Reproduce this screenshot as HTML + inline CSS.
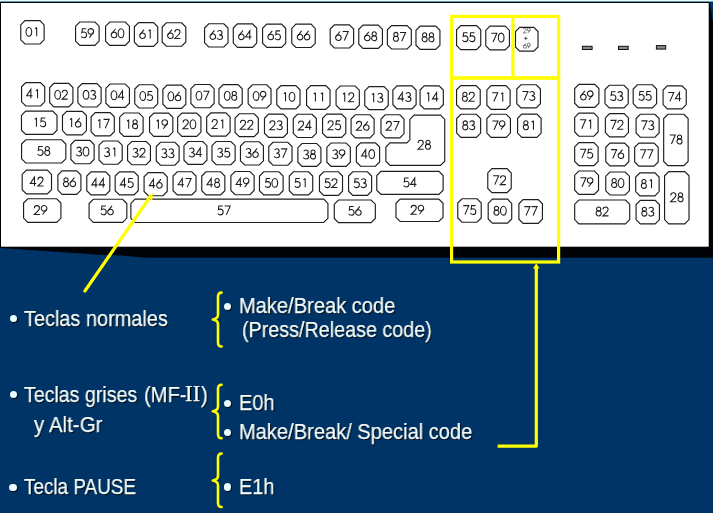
<!DOCTYPE html>
<html><head><meta charset="utf-8">
<style>
html,body{margin:0;padding:0;}
body{-webkit-font-smoothing:antialiased;width:713px;height:513px;overflow:hidden;background:#003366;position:relative;font-family:"Liberation Sans",sans-serif;}
svg{position:absolute;left:0;top:0;}
.k polygon{fill:#fff;stroke:#1e1e1e;stroke-width:1.15;}
.lb{fill:none;stroke:#1c1c1c;stroke-width:1.05;}
.t{position:absolute;color:#f2ffff;white-space:pre;font-size:22px;line-height:22px;text-shadow:1px 1px 1px #000;-webkit-text-stroke:0.25px #f2ffff;transform-origin:0 0;will-change:transform;}
.b{position:absolute;width:7.2px;height:7.2px;border-radius:50%;background:#eaffff;box-shadow:0.8px 0.8px 0.8px #000;}
</style></head><body>
<svg width="713" height="513" viewBox="0 0 713 513" style="will-change:transform">
<!-- shadow -->
<polygon points="0,240 708,240 708,3 710,3 713,23 713,257.8 146,257.8 121,255.4 100,254.7 30,250 0,248" fill="#020307"/>
<rect x="0" y="0" width="713" height="1" fill="#e4ffff"/>
<rect x="0" y="1" width="713" height="1" fill="#6a9ab5"/>
<rect x="0" y="2" width="709" height="1" fill="#000"/>
<rect x="0" y="2" width="1" height="245" fill="#000"/>
<rect x="1" y="3" width="707.7" height="243.7" fill="#fff"/>
<g class="k">
<polygon points="24.97,20.68 39.92,20.68 44.12,24.88 44.12,39.82 39.92,44.02 24.97,44.02 20.77,39.82 20.77,24.88"/>
<polygon points="79.78,21.97 94.92,21.97 99.12,26.17 99.12,41.12 94.92,45.32 79.78,45.32 75.58,41.12 75.58,26.17"/>
<polygon points="109.78,21.97 125.23,21.97 129.43,26.17 129.43,41.22 125.23,45.42 109.78,45.42 105.58,41.22 105.58,26.17"/>
<polygon points="138.57,22.57 153.53,22.57 157.73,26.77 157.73,42.22 153.53,46.42 138.57,46.42 134.38,42.22 134.38,26.77"/>
<polygon points="166.37,22.77 181.63,22.77 185.83,26.97 185.83,42.02 181.63,46.22 166.37,46.22 162.17,42.02 162.17,26.97"/>
<polygon points="208.77,23.77 223.83,23.77 228.03,27.97 228.03,42.82 223.83,47.02 208.77,47.02 204.57,42.82 204.57,27.97"/>
<polygon points="237.47,23.88 252.53,23.88 256.73,28.07 256.73,43.12 252.53,47.32 237.47,47.32 233.27,43.12 233.27,28.07"/>
<polygon points="266.77,24.07 281.53,24.07 285.73,28.27 285.73,43.22 281.53,47.42 266.77,47.42 262.57,43.22 262.57,28.27"/>
<polygon points="295.97,24.18 311.03,24.18 315.23,28.38 315.23,43.32 311.03,47.52 295.97,47.52 291.77,43.32 291.77,28.38"/>
<polygon points="334.38,24.88 349.43,24.88 353.62,29.07 353.62,43.82 349.43,48.02 334.38,48.02 330.18,43.82 330.18,29.07"/>
<polygon points="362.97,25.07 378.23,25.07 382.43,29.27 382.43,44.22 378.23,48.42 362.97,48.42 358.77,44.22 358.77,29.27"/>
<polygon points="391.57,25.57 407.12,25.57 411.32,29.77 411.32,44.82 407.12,49.02 391.57,49.02 387.38,44.82 387.38,29.77"/>
<polygon points="420.17,26.07 435.73,26.07 439.93,30.27 439.93,45.22 435.73,49.42 420.17,49.42 415.97,45.22 415.97,30.27"/>
<polygon points="460.77,25.57 476.53,25.57 480.73,29.77 480.73,45.42 476.53,49.62 460.77,49.62 456.57,45.42 456.57,29.77"/>
<polygon points="489.97,26.18 505.23,26.18 509.43,30.38 509.43,45.72 505.23,49.92 489.97,49.92 485.77,45.72 485.77,30.38"/>
<polygon points="25.77,82.58 40.52,82.58 44.72,86.78 44.72,101.82 40.52,106.02 25.77,106.02 21.57,101.82 21.57,86.78"/>
<polygon points="53.88,83.38 68.72,83.38 72.92,87.58 72.92,102.72 68.72,106.92 53.88,106.92 49.68,102.72 49.68,87.58"/>
<polygon points="82.08,83.58 96.92,83.58 101.12,87.78 101.12,102.82 96.92,107.02 82.08,107.02 77.88,102.82 77.88,87.78"/>
<polygon points="110.08,83.98 125.23,83.98 129.43,88.18 129.43,103.22 125.23,107.42 110.08,107.42 105.88,103.22 105.88,88.18"/>
<polygon points="138.97,84.78 153.53,84.78 157.73,88.98 157.73,103.82 153.53,108.02 138.97,108.02 134.77,103.82 134.77,88.98"/>
<polygon points="167.07,85.08 181.63,85.08 185.83,89.28 185.83,104.22 181.63,108.42 167.07,108.42 162.88,104.22 162.88,89.28"/>
<polygon points="195.07,84.48 209.93,84.48 214.12,88.68 214.12,103.52 209.93,107.72 195.07,107.72 190.88,103.52 190.88,88.68"/>
<polygon points="223.17,84.58 238.03,84.58 242.23,88.78 242.23,103.72 238.03,107.92 223.17,107.92 218.97,103.72 218.97,88.78"/>
<polygon points="252.37,84.78 266.83,84.78 271.03,88.98 271.03,103.82 266.83,108.02 252.37,108.02 248.17,103.82 248.17,88.98"/>
<polygon points="280.97,85.58 295.83,85.58 300.03,89.78 300.03,104.72 295.83,108.92 280.97,108.92 276.77,104.72 276.77,89.78"/>
<polygon points="310.77,85.58 325.83,85.58 330.03,89.78 330.03,105.22 325.83,109.42 310.77,109.42 306.57,105.22 306.57,89.78"/>
<polygon points="340.27,85.98 355.12,85.98 359.32,90.18 359.32,105.22 355.12,109.42 340.27,109.42 336.07,105.22 336.07,90.18"/>
<polygon points="368.97,86.67 384.03,86.67 388.23,90.88 388.23,105.42 384.03,109.62 368.97,109.62 364.77,105.42 364.77,90.88"/>
<polygon points="397.07,85.88 411.93,85.88 416.12,90.08 416.12,104.72 411.93,108.92 397.07,108.92 392.88,104.72 392.88,90.08"/>
<polygon points="424.27,85.88 439.12,85.88 443.32,90.08 443.32,104.72 439.12,108.92 424.27,108.92 420.07,104.72 420.07,90.08"/>
<polygon points="460.77,85.58 476.03,85.58 480.23,89.78 480.23,104.72 476.03,108.92 460.77,108.92 456.57,104.72 456.57,89.78"/>
<polygon points="491.07,85.67 505.93,85.67 510.12,89.88 510.12,105.22 505.93,109.42 491.07,109.42 486.88,105.22 486.88,89.88"/>
<polygon points="520.98,84.78 536.22,84.78 540.42,88.98 540.42,103.72 536.22,107.92 520.98,107.92 516.78,103.72 516.78,88.98"/>
<polygon points="578.88,84.38 594.72,84.38 598.92,88.58 598.92,103.22 594.72,107.42 578.88,107.42 574.68,103.22 574.68,88.58"/>
<polygon points="609.18,85.28 624.02,85.28 628.22,89.48 628.22,103.62 624.02,107.83 609.18,107.83 604.98,103.62 604.98,89.48"/>
<polygon points="637.38,84.78 652.42,84.78 656.62,88.98 656.62,103.62 652.42,107.83 637.38,107.83 633.18,103.62 633.18,88.98"/>
<polygon points="667.28,85.88 682.02,85.88 686.22,90.08 686.22,104.62 682.02,108.83 667.28,108.83 663.08,104.62 663.08,90.08"/>
<polygon points="25.67,111.17 52.82,111.17 57.02,115.38 57.02,130.23 52.82,134.43 25.67,134.43 21.47,130.23 21.47,115.38"/>
<polygon points="66.67,111.38 82.22,111.38 86.42,115.58 86.42,130.63 82.22,134.83 66.67,134.83 62.48,130.63 62.48,115.58"/>
<polygon points="95.28,112.58 110.12,112.58 114.33,116.78 114.33,131.73 110.12,135.93 95.28,135.93 91.08,131.73 91.08,116.78"/>
<polygon points="123.88,112.98 138.93,112.98 143.12,117.18 143.12,132.23 138.93,136.43 123.88,136.43 119.67,132.23 119.67,117.18"/>
<polygon points="153.77,113.08 168.63,113.08 172.83,117.28 172.83,132.13 168.63,136.33 153.77,136.33 149.57,132.13 149.57,117.28"/>
<polygon points="181.87,113.08 196.73,113.08 200.93,117.28 200.93,132.13 196.73,136.33 181.87,136.33 177.67,132.13 177.67,117.28"/>
<polygon points="210.87,112.88 225.93,112.88 230.12,117.08 230.12,131.93 225.93,136.12 210.87,136.12 206.67,131.93 206.67,117.08"/>
<polygon points="239.27,113.78 254.12,113.78 258.32,117.98 258.32,132.43 254.12,136.62 239.27,136.62 235.07,132.43 235.07,117.98"/>
<polygon points="268.67,114.08 283.23,114.08 287.43,118.28 287.43,133.23 283.23,137.43 268.67,137.43 264.47,133.23 264.47,118.28"/>
<polygon points="297.47,114.28 312.12,114.28 316.32,118.48 316.32,133.33 312.12,137.53 297.47,137.53 293.27,133.33 293.27,118.48"/>
<polygon points="326.77,114.08 341.62,114.08 345.82,118.28 345.82,133.23 341.62,137.43 326.77,137.43 322.57,133.23 322.57,118.28"/>
<polygon points="355.27,114.78 369.93,114.78 374.12,118.98 374.12,133.63 369.93,137.83 355.27,137.83 351.07,133.63 351.07,118.98"/>
<polygon points="385.17,114.78 399.83,114.78 404.03,118.98 404.03,133.63 399.83,137.83 385.17,137.83 380.97,133.63 380.97,118.98"/>
<polygon points="460.88,114.28 476.43,114.28 480.62,118.48 480.62,133.13 476.43,137.33 460.88,137.33 456.68,133.13 456.68,118.48"/>
<polygon points="491.07,114.28 506.23,114.28 510.43,118.48 510.43,133.13 506.23,137.33 491.07,137.33 486.88,133.13 486.88,118.48"/>
<polygon points="521.78,114.08 536.92,114.08 541.12,118.28 541.12,133.13 536.92,137.33 521.78,137.33 517.58,133.13 517.58,118.28"/>
<polygon points="578.88,113.17 593.92,113.17 598.12,117.38 598.12,132.03 593.92,136.23 578.88,136.23 574.68,132.03 574.68,117.38"/>
<polygon points="609.58,113.67 624.22,113.67 628.42,117.88 628.42,132.63 624.22,136.83 609.58,136.83 605.38,132.63 605.38,117.88"/>
<polygon points="640.28,114.28 654.92,114.28 659.12,118.48 659.12,133.03 654.92,137.23 640.28,137.23 636.08,133.03 636.08,118.48"/>
<polygon points="667.88,114.28 683.92,114.28 688.12,118.48 688.12,161.43 683.92,165.62 667.88,165.62 663.68,161.43 663.68,118.48"/>
<polygon points="25.77,139.77 61.62,139.77 65.83,143.97 65.83,158.83 61.62,163.03 25.77,163.03 21.57,158.83 21.57,143.97"/>
<polygon points="75.08,140.38 89.92,140.38 94.12,144.57 94.12,159.53 89.92,163.73 75.08,163.73 70.88,159.53 70.88,144.57"/>
<polygon points="103.18,140.97 118.02,140.97 122.22,145.17 122.22,160.03 118.02,164.23 103.18,164.23 98.98,160.03 98.98,145.17"/>
<polygon points="131.78,141.47 146.23,141.47 150.43,145.67 150.43,160.53 146.23,164.73 131.78,164.73 127.58,160.53 127.58,145.67"/>
<polygon points="160.47,142.27 174.93,142.27 179.12,146.47 179.12,161.03 174.93,165.23 160.47,165.23 156.27,161.03 156.27,146.47"/>
<polygon points="188.17,141.47 202.73,141.47 206.93,145.67 206.93,160.23 202.73,164.43 188.17,164.43 183.97,160.23 183.97,145.67"/>
<polygon points="216.17,141.47 230.93,141.47 235.12,145.67 235.12,160.53 230.93,164.73 216.17,164.73 211.97,160.53 211.97,145.67"/>
<polygon points="244.67,141.77 259.23,141.77 263.43,145.97 263.43,160.83 259.23,165.03 244.67,165.03 240.47,160.83 240.47,145.97"/>
<polygon points="272.97,142.27 287.83,142.27 292.03,146.47 292.03,161.03 287.83,165.23 272.97,165.23 268.77,161.03 268.77,146.47"/>
<polygon points="302.07,143.47 316.73,143.47 320.93,147.67 320.93,162.23 316.73,166.43 302.07,166.43 297.88,162.23 297.88,147.67"/>
<polygon points="331.07,142.97 346.12,142.97 350.32,147.17 350.32,162.23 346.12,166.43 331.07,166.43 326.88,162.23 326.88,147.17"/>
<polygon points="360.57,142.88 375.43,142.88 379.62,147.07 379.62,162.03 375.43,166.23 360.57,166.23 356.38,162.03 356.38,147.07"/>
<polygon points="578.88,142.67 593.92,142.67 598.12,146.87 598.12,161.43 593.92,165.62 578.88,165.62 574.68,161.43 574.68,146.87"/>
<polygon points="609.98,143.07 624.62,143.07 628.82,147.27 628.82,161.73 624.62,165.93 609.98,165.93 605.78,161.73 605.78,147.27"/>
<polygon points="638.88,143.07 654.02,143.07 658.22,147.27 658.22,161.93 654.02,166.12 638.88,166.12 634.68,161.93 634.68,147.27"/>
<polygon points="26.38,170.17 47.32,170.17 51.52,174.37 51.52,189.73 47.32,193.93 26.38,193.93 22.18,189.73 22.18,174.37"/>
<polygon points="62.08,170.88 76.72,170.88 80.92,175.07 80.92,190.13 76.72,194.33 62.08,194.33 57.88,190.13 57.88,175.07"/>
<polygon points="90.98,171.88 105.62,171.88 109.83,176.07 109.83,190.73 105.62,194.93 90.98,194.93 86.78,190.73 86.78,176.07"/>
<polygon points="119.38,171.88 134.03,171.88 138.23,176.07 138.23,190.73 134.03,194.93 119.38,194.93 115.17,190.73 115.17,176.07"/>
<polygon points="148.27,172.57 163.03,172.57 167.23,176.77 167.23,191.53 163.03,195.73 148.27,195.73 144.07,191.53 144.07,176.77"/>
<polygon points="177.27,171.77 191.83,171.77 196.03,175.97 196.03,190.73 191.83,194.93 177.27,194.93 173.07,190.73 173.07,175.97"/>
<polygon points="205.97,171.77 220.63,171.77 224.83,175.97 224.83,190.73 220.63,194.93 205.97,194.93 201.77,190.73 201.77,175.97"/>
<polygon points="235.07,171.47 249.93,171.47 254.12,175.67 254.12,190.53 249.93,194.73 235.07,194.73 230.88,190.53 230.88,175.67"/>
<polygon points="263.67,171.77 278.93,171.77 283.12,175.97 283.12,190.73 278.93,194.93 263.67,194.93 259.47,190.73 259.47,175.97"/>
<polygon points="293.47,171.77 308.53,171.77 312.73,175.97 312.73,190.73 308.53,194.93 293.47,194.93 289.27,190.73 289.27,175.97"/>
<polygon points="323.67,171.77 338.33,171.77 342.53,175.97 342.53,191.23 338.33,195.43 323.67,195.43 319.47,191.23 319.47,175.97"/>
<polygon points="352.77,171.77 367.43,171.77 371.62,175.97 371.62,191.23 367.43,195.43 352.77,195.43 348.57,191.23 348.57,175.97"/>
<polygon points="380.97,171.38 438.93,171.38 443.12,175.57 443.12,190.23 438.93,194.43 380.97,194.43 376.77,190.23 376.77,175.57"/>
<polygon points="491.97,168.67 507.03,168.67 511.23,172.87 511.23,188.43 507.03,192.62 491.97,192.62 487.77,188.43 487.77,172.87"/>
<polygon points="578.88,170.97 594.32,170.97 598.52,175.17 598.52,190.23 594.32,194.43 578.88,194.43 574.68,190.23 574.68,175.17"/>
<polygon points="609.98,171.97 625.22,171.97 629.42,176.17 629.42,190.83 625.22,195.03 609.98,195.03 605.78,190.83 605.78,176.17"/>
<polygon points="639.88,172.88 654.92,172.88 659.12,177.07 659.12,191.63 654.92,195.83 639.88,195.83 635.68,191.63 635.68,177.07"/>
<polygon points="668.78,171.57 684.82,171.57 689.02,175.77 689.02,219.63 684.82,223.83 668.78,223.83 664.58,219.63 664.58,175.77"/>
<polygon points="27.77,198.77 56.72,198.77 60.92,202.97 60.92,218.13 56.72,222.33 27.77,222.33 23.57,218.13 23.57,202.97"/>
<polygon points="93.28,199.27 122.62,199.27 126.83,203.47 126.83,218.13 122.62,222.33 93.28,222.33 89.08,218.13 89.08,203.47"/>
<polygon points="135.07,199.17 323.73,199.17 327.93,203.37 327.93,218.33 323.73,222.53 135.07,222.53 130.88,218.33 130.88,203.37"/>
<polygon points="338.47,199.97 371.12,199.97 375.32,204.17 375.32,218.43 371.12,222.62 338.47,222.62 334.27,218.43 334.27,204.17"/>
<polygon points="400.17,199.07 438.83,199.07 443.03,203.27 443.03,217.33 438.83,221.53 400.17,221.53 395.97,217.33 395.97,203.27"/>
<polygon points="461.97,198.77 477.03,198.77 481.23,202.97 481.23,218.03 477.03,222.23 461.97,222.23 457.77,218.03 457.77,202.97"/>
<polygon points="492.38,199.17 507.52,199.17 511.72,203.37 511.72,218.93 507.52,223.12 492.38,223.12 488.18,218.93 488.18,203.37"/>
<polygon points="523.08,199.57 538.22,199.57 542.42,203.77 542.42,219.23 538.22,223.43 523.08,223.43 518.88,219.23 518.88,203.77"/>
<polygon points="578.88,199.97 625.52,199.97 629.72,204.17 629.72,219.63 625.52,223.83 578.88,223.83 574.68,219.63 574.68,204.17"/>
<polygon points="640.28,200.38 655.22,200.38 659.42,204.57 659.42,219.63 655.22,223.83 640.28,223.83 636.08,219.63 636.08,204.57"/>
<polygon points="414.07,115.17 440.53,115.17 444.73,119.38 444.73,161.23 440.53,165.43 390.07,165.43 385.88,161.23 385.88,147.07 390.07,142.88 406.88,142.88 409.88,139.88 409.88,119.38"/>
<polygon points="519.68,27.38 533.82,27.38 538.02,31.57 538.02,46.92 533.82,51.12 519.68,51.12 515.48,46.92 515.48,31.57"/>
</g>
<g class="lb">
<g transform="translate(25.90,27.30) scale(1.0)"><ellipse cx="2.95" cy="4.55" rx="2.85" ry="4.45"/></g><g transform="translate(33.00,27.30) scale(1.0)"><path d="M3.7,0.1 V9.05 M2.0,1.6 L3.7,0.1"/></g>
<g transform="translate(80.95,28.60) scale(1.0)"><path d="M5.3,0.15 H1.4 L0.95,3.9 C1.5,3.5 2.2,3.3 2.9,3.3 C4.5,3.3 5.7,4.6 5.7,6.2 C5.7,7.8 4.5,9.05 2.9,9.05 C1.7,9.05 0.8,8.5 0.3,7.6"/></g><g transform="translate(87.95,28.60) scale(1.0)"><circle cx="2.85" cy="2.8" r="2.8"/><path d="M5.35,3.95 L1.4,9.05"/></g>
<g transform="translate(111.05,28.65) scale(1.0)"><circle cx="2.95" cy="6.25" r="2.8"/><path d="M4.5,0.1 L0.55,5.1"/></g><g transform="translate(118.05,28.65) scale(1.0)"><ellipse cx="2.95" cy="4.55" rx="2.85" ry="4.45"/></g>
<g transform="translate(139.55,29.45) scale(1.0)"><circle cx="2.95" cy="6.25" r="2.8"/><path d="M4.5,0.1 L0.55,5.1"/></g><g transform="translate(146.55,29.45) scale(1.0)"><path d="M3.7,0.1 V9.05 M2.0,1.6 L3.7,0.1"/></g>
<g transform="translate(167.45,29.45) scale(1.0)"><circle cx="2.95" cy="6.25" r="2.8"/><path d="M4.5,0.1 L0.55,5.1"/></g><g transform="translate(174.45,29.45) scale(1.0)"><path d="M0.45,2.75 C0.45,1.2 1.6,0.1 3,0.1 C4.4,0.1 5.55,1.2 5.55,2.6 C5.55,3.7 5,4.4 4.1,5.3 L0.3,9 H5.9"/></g>
<g transform="translate(209.90,30.35) scale(1.0)"><circle cx="2.95" cy="6.25" r="2.8"/><path d="M4.5,0.1 L0.55,5.1"/></g><g transform="translate(216.90,30.35) scale(1.0)"><path d="M0.6,1.4 C1,0.6 1.8,0.1 2.8,0.1 C4.2,0.1 5.1,1.1 5.1,2.3 C5.1,3.6 4,4.5 2.4,4.5 C4.3,4.5 5.6,5.5 5.6,6.8 C5.6,8.1 4.4,9.05 2.8,9.05 C1.6,9.05 0.7,8.5 0.2,7.6"/></g>
<g transform="translate(238.40,30.55) scale(1.0)"><circle cx="2.95" cy="6.25" r="2.8"/><path d="M4.5,0.1 L0.55,5.1"/></g><g transform="translate(245.40,30.55) scale(1.0)"><path d="M4.4,9.05 V0.1 L0.2,6.5 H6.1"/></g>
<g transform="translate(267.75,30.70) scale(1.0)"><circle cx="2.95" cy="6.25" r="2.8"/><path d="M4.5,0.1 L0.55,5.1"/></g><g transform="translate(274.75,30.70) scale(1.0)"><path d="M5.3,0.15 H1.4 L0.95,3.9 C1.5,3.5 2.2,3.3 2.9,3.3 C4.5,3.3 5.7,4.6 5.7,6.2 C5.7,7.8 4.5,9.05 2.9,9.05 C1.7,9.05 0.8,8.5 0.3,7.6"/></g>
<g transform="translate(297.10,30.80) scale(1.0)"><circle cx="2.95" cy="6.25" r="2.8"/><path d="M4.5,0.1 L0.55,5.1"/></g><g transform="translate(304.10,30.80) scale(1.0)"><circle cx="2.95" cy="6.25" r="2.8"/><path d="M4.5,0.1 L0.55,5.1"/></g>
<g transform="translate(335.45,31.40) scale(1.0)"><circle cx="2.95" cy="6.25" r="2.8"/><path d="M4.5,0.1 L0.55,5.1"/></g><g transform="translate(342.45,31.40) scale(1.0)"><path d="M0.2,0.15 H5.8 L1.9,9.05"/></g>
<g transform="translate(364.30,31.70) scale(1.0)"><circle cx="2.95" cy="6.25" r="2.8"/><path d="M4.5,0.1 L0.55,5.1"/></g><g transform="translate(371.30,31.70) scale(1.0)"><circle cx="2.9" cy="2.2" r="2.1"/><circle cx="2.9" cy="6.5" r="2.55"/></g>
<g transform="translate(393.00,32.25) scale(1.0)"><circle cx="2.9" cy="2.2" r="2.1"/><circle cx="2.9" cy="6.5" r="2.55"/></g><g transform="translate(399.80,32.25) scale(1.0)"><path d="M0.2,0.15 H5.8 L1.9,9.05"/></g>
<g transform="translate(421.75,32.70) scale(1.0)"><circle cx="2.9" cy="2.2" r="2.1"/><circle cx="2.9" cy="6.5" r="2.55"/></g><g transform="translate(428.55,32.70) scale(1.0)"><circle cx="2.9" cy="2.2" r="2.1"/><circle cx="2.9" cy="6.5" r="2.55"/></g>
<g transform="translate(462.25,32.55) scale(1.0)"><path d="M5.3,0.15 H1.4 L0.95,3.9 C1.5,3.5 2.2,3.3 2.9,3.3 C4.5,3.3 5.7,4.6 5.7,6.2 C5.7,7.8 4.5,9.05 2.9,9.05 C1.7,9.05 0.8,8.5 0.3,7.6"/></g><g transform="translate(469.25,32.55) scale(1.0)"><path d="M5.3,0.15 H1.4 L0.95,3.9 C1.5,3.5 2.2,3.3 2.9,3.3 C4.5,3.3 5.7,4.6 5.7,6.2 C5.7,7.8 4.5,9.05 2.9,9.05 C1.7,9.05 0.8,8.5 0.3,7.6"/></g>
<g transform="translate(491.10,33.00) scale(1.0)"><path d="M0.2,0.15 H5.8 L1.9,9.05"/></g><g transform="translate(498.20,33.00) scale(1.0)"><ellipse cx="2.95" cy="4.55" rx="2.85" ry="4.45"/></g>
<g transform="translate(26.45,89.25) scale(1.0)"><path d="M4.4,9.05 V0.1 L0.2,6.5 H6.1"/></g><g transform="translate(33.85,89.25) scale(1.0)"><path d="M3.7,0.1 V9.05 M2.0,1.6 L3.7,0.1"/></g>
<g transform="translate(54.70,90.10) scale(1.0)"><ellipse cx="2.95" cy="4.55" rx="2.85" ry="4.45"/></g><g transform="translate(61.80,90.10) scale(1.0)"><path d="M0.45,2.75 C0.45,1.2 1.6,0.1 3,0.1 C4.4,0.1 5.55,1.2 5.55,2.6 C5.55,3.7 5,4.4 4.1,5.3 L0.3,9 H5.9"/></g>
<g transform="translate(83.05,90.25) scale(1.0)"><ellipse cx="2.95" cy="4.55" rx="2.85" ry="4.45"/></g><g transform="translate(90.15,90.25) scale(1.0)"><path d="M0.6,1.4 C1,0.6 1.8,0.1 2.8,0.1 C4.2,0.1 5.1,1.1 5.1,2.3 C5.1,3.6 4,4.5 2.4,4.5 C4.3,4.5 5.6,5.5 5.6,6.8 C5.6,8.1 4.4,9.05 2.8,9.05 C1.6,9.05 0.7,8.5 0.2,7.6"/></g>
<g transform="translate(111.00,90.65) scale(1.0)"><ellipse cx="2.95" cy="4.55" rx="2.85" ry="4.45"/></g><g transform="translate(118.10,90.65) scale(1.0)"><path d="M4.4,9.05 V0.1 L0.2,6.5 H6.1"/></g>
<g transform="translate(139.80,91.35) scale(1.0)"><ellipse cx="2.95" cy="4.55" rx="2.85" ry="4.45"/></g><g transform="translate(146.90,91.35) scale(1.0)"><path d="M5.3,0.15 H1.4 L0.95,3.9 C1.5,3.5 2.2,3.3 2.9,3.3 C4.5,3.3 5.7,4.6 5.7,6.2 C5.7,7.8 4.5,9.05 2.9,9.05 C1.7,9.05 0.8,8.5 0.3,7.6"/></g>
<g transform="translate(167.90,91.70) scale(1.0)"><ellipse cx="2.95" cy="4.55" rx="2.85" ry="4.45"/></g><g transform="translate(175.00,91.70) scale(1.0)"><circle cx="2.95" cy="6.25" r="2.8"/><path d="M4.5,0.1 L0.55,5.1"/></g>
<g transform="translate(196.00,91.05) scale(1.0)"><ellipse cx="2.95" cy="4.55" rx="2.85" ry="4.45"/></g><g transform="translate(203.10,91.05) scale(1.0)"><path d="M0.2,0.15 H5.8 L1.9,9.05"/></g>
<g transform="translate(224.25,91.20) scale(1.0)"><ellipse cx="2.95" cy="4.55" rx="2.85" ry="4.45"/></g><g transform="translate(231.35,91.20) scale(1.0)"><circle cx="2.9" cy="2.2" r="2.1"/><circle cx="2.9" cy="6.5" r="2.55"/></g>
<g transform="translate(253.15,91.35) scale(1.0)"><ellipse cx="2.95" cy="4.55" rx="2.85" ry="4.45"/></g><g transform="translate(260.25,91.35) scale(1.0)"><circle cx="2.85" cy="2.8" r="2.8"/><path d="M5.35,3.95 L1.4,9.05"/></g>
<g transform="translate(281.85,92.20) scale(1.0)"><path d="M3.7,0.1 V9.05 M2.0,1.6 L3.7,0.1"/></g><g transform="translate(289.05,92.20) scale(1.0)"><ellipse cx="2.95" cy="4.55" rx="2.85" ry="4.45"/></g>
<g transform="translate(311.70,92.45) scale(1.0)"><path d="M3.7,0.1 V9.05 M2.0,1.6 L3.7,0.1"/></g><g transform="translate(318.90,92.45) scale(1.0)"><path d="M3.7,0.1 V9.05 M2.0,1.6 L3.7,0.1"/></g>
<g transform="translate(341.05,92.65) scale(1.0)"><path d="M3.7,0.1 V9.05 M2.0,1.6 L3.7,0.1"/></g><g transform="translate(348.25,92.65) scale(1.0)"><path d="M0.45,2.75 C0.45,1.2 1.6,0.1 3,0.1 C4.4,0.1 5.55,1.2 5.55,2.6 C5.55,3.7 5,4.4 4.1,5.3 L0.3,9 H5.9"/></g>
<g transform="translate(370.00,93.10) scale(1.0)"><path d="M3.7,0.1 V9.05 M2.0,1.6 L3.7,0.1"/></g><g transform="translate(377.20,93.10) scale(1.0)"><path d="M0.6,1.4 C1,0.6 1.8,0.1 2.8,0.1 C4.2,0.1 5.1,1.1 5.1,2.3 C5.1,3.6 4,4.5 2.4,4.5 C4.3,4.5 5.6,5.5 5.6,6.8 C5.6,8.1 4.4,9.05 2.8,9.05 C1.6,9.05 0.7,8.5 0.2,7.6"/></g>
<g transform="translate(397.90,92.35) scale(1.0)"><path d="M4.4,9.05 V0.1 L0.2,6.5 H6.1"/></g><g transform="translate(405.30,92.35) scale(1.0)"><path d="M0.6,1.4 C1,0.6 1.8,0.1 2.8,0.1 C4.2,0.1 5.1,1.1 5.1,2.3 C5.1,3.6 4,4.5 2.4,4.5 C4.3,4.5 5.6,5.5 5.6,6.8 C5.6,8.1 4.4,9.05 2.8,9.05 C1.6,9.05 0.7,8.5 0.2,7.6"/></g>
<g transform="translate(425.00,92.35) scale(1.0)"><path d="M3.7,0.1 V9.05 M2.0,1.6 L3.7,0.1"/></g><g transform="translate(432.20,92.35) scale(1.0)"><path d="M4.4,9.05 V0.1 L0.2,6.5 H6.1"/></g>
<g transform="translate(461.95,92.20) scale(1.0)"><circle cx="2.9" cy="2.2" r="2.1"/><circle cx="2.9" cy="6.5" r="2.55"/></g><g transform="translate(468.75,92.20) scale(1.0)"><path d="M0.45,2.75 C0.45,1.2 1.6,0.1 3,0.1 C4.4,0.1 5.55,1.2 5.55,2.6 C5.55,3.7 5,4.4 4.1,5.3 L0.3,9 H5.9"/></g>
<g transform="translate(491.95,92.50) scale(1.0)"><path d="M0.2,0.15 H5.8 L1.9,9.05"/></g><g transform="translate(499.05,92.50) scale(1.0)"><path d="M3.7,0.1 V9.05 M2.0,1.6 L3.7,0.1"/></g>
<g transform="translate(522.15,91.30) scale(1.0)"><path d="M0.2,0.15 H5.8 L1.9,9.05"/></g><g transform="translate(529.25,91.30) scale(1.0)"><path d="M0.6,1.4 C1,0.6 1.8,0.1 2.8,0.1 C4.2,0.1 5.1,1.1 5.1,2.3 C5.1,3.6 4,4.5 2.4,4.5 C4.3,4.5 5.6,5.5 5.6,6.8 C5.6,8.1 4.4,9.05 2.8,9.05 C1.6,9.05 0.7,8.5 0.2,7.6"/></g>
<g transform="translate(580.40,90.85) scale(1.0)"><circle cx="2.95" cy="6.25" r="2.8"/><path d="M4.5,0.1 L0.55,5.1"/></g><g transform="translate(587.40,90.85) scale(1.0)"><circle cx="2.85" cy="2.8" r="2.8"/><path d="M5.35,3.95 L1.4,9.05"/></g>
<g transform="translate(610.20,91.50) scale(1.0)"><path d="M5.3,0.15 H1.4 L0.95,3.9 C1.5,3.5 2.2,3.3 2.9,3.3 C4.5,3.3 5.7,4.6 5.7,6.2 C5.7,7.8 4.5,9.05 2.9,9.05 C1.7,9.05 0.8,8.5 0.3,7.6"/></g><g transform="translate(617.20,91.50) scale(1.0)"><path d="M0.6,1.4 C1,0.6 1.8,0.1 2.8,0.1 C4.2,0.1 5.1,1.1 5.1,2.3 C5.1,3.6 4,4.5 2.4,4.5 C4.3,4.5 5.6,5.5 5.6,6.8 C5.6,8.1 4.4,9.05 2.8,9.05 C1.6,9.05 0.7,8.5 0.2,7.6"/></g>
<g transform="translate(638.50,91.25) scale(1.0)"><path d="M5.3,0.15 H1.4 L0.95,3.9 C1.5,3.5 2.2,3.3 2.9,3.3 C4.5,3.3 5.7,4.6 5.7,6.2 C5.7,7.8 4.5,9.05 2.9,9.05 C1.7,9.05 0.8,8.5 0.3,7.6"/></g><g transform="translate(645.50,91.25) scale(1.0)"><path d="M5.3,0.15 H1.4 L0.95,3.9 C1.5,3.5 2.2,3.3 2.9,3.3 C4.5,3.3 5.7,4.6 5.7,6.2 C5.7,7.8 4.5,9.05 2.9,9.05 C1.7,9.05 0.8,8.5 0.3,7.6"/></g>
<g transform="translate(668.00,92.30) scale(1.0)"><path d="M0.2,0.15 H5.8 L1.9,9.05"/></g><g transform="translate(675.10,92.30) scale(1.0)"><path d="M4.4,9.05 V0.1 L0.2,6.5 H6.1"/></g>
<g transform="translate(32.75,117.75) scale(1.0)"><path d="M3.7,0.1 V9.05 M2.0,1.6 L3.7,0.1"/></g><g transform="translate(39.95,117.75) scale(1.0)"><path d="M5.3,0.15 H1.4 L0.95,3.9 C1.5,3.5 2.2,3.3 2.9,3.3 C4.5,3.3 5.7,4.6 5.7,6.2 C5.7,7.8 4.5,9.05 2.9,9.05 C1.7,9.05 0.8,8.5 0.3,7.6"/></g>
<g transform="translate(67.95,118.05) scale(1.0)"><path d="M3.7,0.1 V9.05 M2.0,1.6 L3.7,0.1"/></g><g transform="translate(75.15,118.05) scale(1.0)"><circle cx="2.95" cy="6.25" r="2.8"/><path d="M4.5,0.1 L0.55,5.1"/></g>
<g transform="translate(96.15,119.20) scale(1.0)"><path d="M3.7,0.1 V9.05 M2.0,1.6 L3.7,0.1"/></g><g transform="translate(103.35,119.20) scale(1.0)"><path d="M0.2,0.15 H5.8 L1.9,9.05"/></g>
<g transform="translate(125.00,119.65) scale(1.0)"><path d="M3.7,0.1 V9.05 M2.0,1.6 L3.7,0.1"/></g><g transform="translate(132.20,119.65) scale(1.0)"><circle cx="2.9" cy="2.2" r="2.1"/><circle cx="2.9" cy="6.5" r="2.55"/></g>
<g transform="translate(154.70,119.65) scale(1.0)"><path d="M3.7,0.1 V9.05 M2.0,1.6 L3.7,0.1"/></g><g transform="translate(161.90,119.65) scale(1.0)"><circle cx="2.85" cy="2.8" r="2.8"/><path d="M5.35,3.95 L1.4,9.05"/></g>
<g transform="translate(182.70,119.65) scale(1.0)"><path d="M0.45,2.75 C0.45,1.2 1.6,0.1 3,0.1 C4.4,0.1 5.55,1.2 5.55,2.6 C5.55,3.7 5,4.4 4.1,5.3 L0.3,9 H5.9"/></g><g transform="translate(190.00,119.65) scale(1.0)"><ellipse cx="2.95" cy="4.55" rx="2.85" ry="4.45"/></g>
<g transform="translate(211.75,119.45) scale(1.0)"><path d="M0.45,2.75 C0.45,1.2 1.6,0.1 3,0.1 C4.4,0.1 5.55,1.2 5.55,2.6 C5.55,3.7 5,4.4 4.1,5.3 L0.3,9 H5.9"/></g><g transform="translate(219.05,119.45) scale(1.0)"><path d="M3.7,0.1 V9.05 M2.0,1.6 L3.7,0.1"/></g>
<g transform="translate(240.00,120.15) scale(1.0)"><path d="M0.45,2.75 C0.45,1.2 1.6,0.1 3,0.1 C4.4,0.1 5.55,1.2 5.55,2.6 C5.55,3.7 5,4.4 4.1,5.3 L0.3,9 H5.9"/></g><g transform="translate(247.30,120.15) scale(1.0)"><path d="M0.45,2.75 C0.45,1.2 1.6,0.1 3,0.1 C4.4,0.1 5.55,1.2 5.55,2.6 C5.55,3.7 5,4.4 4.1,5.3 L0.3,9 H5.9"/></g>
<g transform="translate(269.40,120.70) scale(1.0)"><path d="M0.45,2.75 C0.45,1.2 1.6,0.1 3,0.1 C4.4,0.1 5.55,1.2 5.55,2.6 C5.55,3.7 5,4.4 4.1,5.3 L0.3,9 H5.9"/></g><g transform="translate(276.70,120.70) scale(1.0)"><path d="M0.6,1.4 C1,0.6 1.8,0.1 2.8,0.1 C4.2,0.1 5.1,1.1 5.1,2.3 C5.1,3.6 4,4.5 2.4,4.5 C4.3,4.5 5.6,5.5 5.6,6.8 C5.6,8.1 4.4,9.05 2.8,9.05 C1.6,9.05 0.7,8.5 0.2,7.6"/></g>
<g transform="translate(298.05,120.85) scale(1.0)"><path d="M0.45,2.75 C0.45,1.2 1.6,0.1 3,0.1 C4.4,0.1 5.55,1.2 5.55,2.6 C5.55,3.7 5,4.4 4.1,5.3 L0.3,9 H5.9"/></g><g transform="translate(305.35,120.85) scale(1.0)"><path d="M4.4,9.05 V0.1 L0.2,6.5 H6.1"/></g>
<g transform="translate(327.65,120.70) scale(1.0)"><path d="M0.45,2.75 C0.45,1.2 1.6,0.1 3,0.1 C4.4,0.1 5.55,1.2 5.55,2.6 C5.55,3.7 5,4.4 4.1,5.3 L0.3,9 H5.9"/></g><g transform="translate(334.95,120.70) scale(1.0)"><path d="M5.3,0.15 H1.4 L0.95,3.9 C1.5,3.5 2.2,3.3 2.9,3.3 C4.5,3.3 5.7,4.6 5.7,6.2 C5.7,7.8 4.5,9.05 2.9,9.05 C1.7,9.05 0.8,8.5 0.3,7.6"/></g>
<g transform="translate(356.05,121.25) scale(1.0)"><path d="M0.45,2.75 C0.45,1.2 1.6,0.1 3,0.1 C4.4,0.1 5.55,1.2 5.55,2.6 C5.55,3.7 5,4.4 4.1,5.3 L0.3,9 H5.9"/></g><g transform="translate(363.35,121.25) scale(1.0)"><circle cx="2.95" cy="6.25" r="2.8"/><path d="M4.5,0.1 L0.55,5.1"/></g>
<g transform="translate(385.90,121.25) scale(1.0)"><path d="M0.45,2.75 C0.45,1.2 1.6,0.1 3,0.1 C4.4,0.1 5.55,1.2 5.55,2.6 C5.55,3.7 5,4.4 4.1,5.3 L0.3,9 H5.9"/></g><g transform="translate(393.20,121.25) scale(1.0)"><path d="M0.2,0.15 H5.8 L1.9,9.05"/></g>
<g transform="translate(462.35,120.75) scale(1.0)"><circle cx="2.9" cy="2.2" r="2.1"/><circle cx="2.9" cy="6.5" r="2.55"/></g><g transform="translate(469.15,120.75) scale(1.0)"><path d="M0.6,1.4 C1,0.6 1.8,0.1 2.8,0.1 C4.2,0.1 5.1,1.1 5.1,2.3 C5.1,3.6 4,4.5 2.4,4.5 C4.3,4.5 5.6,5.5 5.6,6.8 C5.6,8.1 4.4,9.05 2.8,9.05 C1.6,9.05 0.7,8.5 0.2,7.6"/></g>
<g transform="translate(492.20,120.75) scale(1.0)"><path d="M0.2,0.15 H5.8 L1.9,9.05"/></g><g transform="translate(499.30,120.75) scale(1.0)"><circle cx="2.85" cy="2.8" r="2.8"/><path d="M5.35,3.95 L1.4,9.05"/></g>
<g transform="translate(522.95,120.65) scale(1.0)"><circle cx="2.9" cy="2.2" r="2.1"/><circle cx="2.9" cy="6.5" r="2.55"/></g><g transform="translate(529.75,120.65) scale(1.0)"><path d="M3.7,0.1 V9.05 M2.0,1.6 L3.7,0.1"/></g>
<g transform="translate(579.85,119.65) scale(1.0)"><path d="M0.2,0.15 H5.8 L1.9,9.05"/></g><g transform="translate(586.95,119.65) scale(1.0)"><path d="M3.7,0.1 V9.05 M2.0,1.6 L3.7,0.1"/></g>
<g transform="translate(610.30,120.20) scale(1.0)"><path d="M0.2,0.15 H5.8 L1.9,9.05"/></g><g transform="translate(617.40,120.20) scale(1.0)"><path d="M0.45,2.75 C0.45,1.2 1.6,0.1 3,0.1 C4.4,0.1 5.55,1.2 5.55,2.6 C5.55,3.7 5,4.4 4.1,5.3 L0.3,9 H5.9"/></g>
<g transform="translate(641.15,120.70) scale(1.0)"><path d="M0.2,0.15 H5.8 L1.9,9.05"/></g><g transform="translate(648.25,120.70) scale(1.0)"><path d="M0.6,1.4 C1,0.6 1.8,0.1 2.8,0.1 C4.2,0.1 5.1,1.1 5.1,2.3 C5.1,3.6 4,4.5 2.4,4.5 C4.3,4.5 5.6,5.5 5.6,6.8 C5.6,8.1 4.4,9.05 2.8,9.05 C1.6,9.05 0.7,8.5 0.2,7.6"/></g>
<g transform="translate(669.55,134.90) scale(1.0)"><path d="M0.2,0.15 H5.8 L1.9,9.05"/></g><g transform="translate(676.65,134.90) scale(1.0)"><circle cx="2.9" cy="2.2" r="2.1"/><circle cx="2.9" cy="6.5" r="2.55"/></g>
<g transform="translate(37.40,146.35) scale(1.0)"><path d="M5.3,0.15 H1.4 L0.95,3.9 C1.5,3.5 2.2,3.3 2.9,3.3 C4.5,3.3 5.7,4.6 5.7,6.2 C5.7,7.8 4.5,9.05 2.9,9.05 C1.7,9.05 0.8,8.5 0.3,7.6"/></g><g transform="translate(44.40,146.35) scale(1.0)"><circle cx="2.9" cy="2.2" r="2.1"/><circle cx="2.9" cy="6.5" r="2.55"/></g>
<g transform="translate(76.05,147.00) scale(1.0)"><path d="M0.6,1.4 C1,0.6 1.8,0.1 2.8,0.1 C4.2,0.1 5.1,1.1 5.1,2.3 C5.1,3.6 4,4.5 2.4,4.5 C4.3,4.5 5.6,5.5 5.6,6.8 C5.6,8.1 4.4,9.05 2.8,9.05 C1.6,9.05 0.7,8.5 0.2,7.6"/></g><g transform="translate(83.05,147.00) scale(1.0)"><ellipse cx="2.95" cy="4.55" rx="2.85" ry="4.45"/></g>
<g transform="translate(104.10,147.55) scale(1.0)"><path d="M0.6,1.4 C1,0.6 1.8,0.1 2.8,0.1 C4.2,0.1 5.1,1.1 5.1,2.3 C5.1,3.6 4,4.5 2.4,4.5 C4.3,4.5 5.6,5.5 5.6,6.8 C5.6,8.1 4.4,9.05 2.8,9.05 C1.6,9.05 0.7,8.5 0.2,7.6"/></g><g transform="translate(111.10,147.55) scale(1.0)"><path d="M3.7,0.1 V9.05 M2.0,1.6 L3.7,0.1"/></g>
<g transform="translate(132.45,148.05) scale(1.0)"><path d="M0.6,1.4 C1,0.6 1.8,0.1 2.8,0.1 C4.2,0.1 5.1,1.1 5.1,2.3 C5.1,3.6 4,4.5 2.4,4.5 C4.3,4.5 5.6,5.5 5.6,6.8 C5.6,8.1 4.4,9.05 2.8,9.05 C1.6,9.05 0.7,8.5 0.2,7.6"/></g><g transform="translate(139.45,148.05) scale(1.0)"><path d="M0.45,2.75 C0.45,1.2 1.6,0.1 3,0.1 C4.4,0.1 5.55,1.2 5.55,2.6 C5.55,3.7 5,4.4 4.1,5.3 L0.3,9 H5.9"/></g>
<g transform="translate(161.30,148.70) scale(1.0)"><path d="M0.6,1.4 C1,0.6 1.8,0.1 2.8,0.1 C4.2,0.1 5.1,1.1 5.1,2.3 C5.1,3.6 4,4.5 2.4,4.5 C4.3,4.5 5.6,5.5 5.6,6.8 C5.6,8.1 4.4,9.05 2.8,9.05 C1.6,9.05 0.7,8.5 0.2,7.6"/></g><g transform="translate(168.30,148.70) scale(1.0)"><path d="M0.6,1.4 C1,0.6 1.8,0.1 2.8,0.1 C4.2,0.1 5.1,1.1 5.1,2.3 C5.1,3.6 4,4.5 2.4,4.5 C4.3,4.5 5.6,5.5 5.6,6.8 C5.6,8.1 4.4,9.05 2.8,9.05 C1.6,9.05 0.7,8.5 0.2,7.6"/></g>
<g transform="translate(188.85,147.90) scale(1.0)"><path d="M0.6,1.4 C1,0.6 1.8,0.1 2.8,0.1 C4.2,0.1 5.1,1.1 5.1,2.3 C5.1,3.6 4,4.5 2.4,4.5 C4.3,4.5 5.6,5.5 5.6,6.8 C5.6,8.1 4.4,9.05 2.8,9.05 C1.6,9.05 0.7,8.5 0.2,7.6"/></g><g transform="translate(195.85,147.90) scale(1.0)"><path d="M4.4,9.05 V0.1 L0.2,6.5 H6.1"/></g>
<g transform="translate(217.15,148.05) scale(1.0)"><path d="M0.6,1.4 C1,0.6 1.8,0.1 2.8,0.1 C4.2,0.1 5.1,1.1 5.1,2.3 C5.1,3.6 4,4.5 2.4,4.5 C4.3,4.5 5.6,5.5 5.6,6.8 C5.6,8.1 4.4,9.05 2.8,9.05 C1.6,9.05 0.7,8.5 0.2,7.6"/></g><g transform="translate(224.15,148.05) scale(1.0)"><path d="M5.3,0.15 H1.4 L0.95,3.9 C1.5,3.5 2.2,3.3 2.9,3.3 C4.5,3.3 5.7,4.6 5.7,6.2 C5.7,7.8 4.5,9.05 2.9,9.05 C1.7,9.05 0.8,8.5 0.3,7.6"/></g>
<g transform="translate(245.55,148.35) scale(1.0)"><path d="M0.6,1.4 C1,0.6 1.8,0.1 2.8,0.1 C4.2,0.1 5.1,1.1 5.1,2.3 C5.1,3.6 4,4.5 2.4,4.5 C4.3,4.5 5.6,5.5 5.6,6.8 C5.6,8.1 4.4,9.05 2.8,9.05 C1.6,9.05 0.7,8.5 0.2,7.6"/></g><g transform="translate(252.55,148.35) scale(1.0)"><circle cx="2.95" cy="6.25" r="2.8"/><path d="M4.5,0.1 L0.55,5.1"/></g>
<g transform="translate(273.95,148.70) scale(1.0)"><path d="M0.6,1.4 C1,0.6 1.8,0.1 2.8,0.1 C4.2,0.1 5.1,1.1 5.1,2.3 C5.1,3.6 4,4.5 2.4,4.5 C4.3,4.5 5.6,5.5 5.6,6.8 C5.6,8.1 4.4,9.05 2.8,9.05 C1.6,9.05 0.7,8.5 0.2,7.6"/></g><g transform="translate(280.95,148.70) scale(1.0)"><path d="M0.2,0.15 H5.8 L1.9,9.05"/></g>
<g transform="translate(303.10,149.90) scale(1.0)"><path d="M0.6,1.4 C1,0.6 1.8,0.1 2.8,0.1 C4.2,0.1 5.1,1.1 5.1,2.3 C5.1,3.6 4,4.5 2.4,4.5 C4.3,4.5 5.6,5.5 5.6,6.8 C5.6,8.1 4.4,9.05 2.8,9.05 C1.6,9.05 0.7,8.5 0.2,7.6"/></g><g transform="translate(310.10,149.90) scale(1.0)"><circle cx="2.9" cy="2.2" r="2.1"/><circle cx="2.9" cy="6.5" r="2.55"/></g>
<g transform="translate(332.20,149.65) scale(1.0)"><path d="M0.6,1.4 C1,0.6 1.8,0.1 2.8,0.1 C4.2,0.1 5.1,1.1 5.1,2.3 C5.1,3.6 4,4.5 2.4,4.5 C4.3,4.5 5.6,5.5 5.6,6.8 C5.6,8.1 4.4,9.05 2.8,9.05 C1.6,9.05 0.7,8.5 0.2,7.6"/></g><g transform="translate(339.20,149.65) scale(1.0)"><circle cx="2.85" cy="2.8" r="2.8"/><path d="M5.35,3.95 L1.4,9.05"/></g>
<g transform="translate(361.35,149.50) scale(1.0)"><path d="M4.4,9.05 V0.1 L0.2,6.5 H6.1"/></g><g transform="translate(368.75,149.50) scale(1.0)"><ellipse cx="2.95" cy="4.55" rx="2.85" ry="4.45"/></g>
<g transform="translate(579.95,149.10) scale(1.0)"><path d="M0.2,0.15 H5.8 L1.9,9.05"/></g><g transform="translate(587.05,149.10) scale(1.0)"><path d="M5.3,0.15 H1.4 L0.95,3.9 C1.5,3.5 2.2,3.3 2.9,3.3 C4.5,3.3 5.7,4.6 5.7,6.2 C5.7,7.8 4.5,9.05 2.9,9.05 C1.7,9.05 0.8,8.5 0.3,7.6"/></g>
<g transform="translate(610.85,149.45) scale(1.0)"><path d="M0.2,0.15 H5.8 L1.9,9.05"/></g><g transform="translate(617.95,149.45) scale(1.0)"><circle cx="2.95" cy="6.25" r="2.8"/><path d="M4.5,0.1 L0.55,5.1"/></g>
<g transform="translate(639.95,149.55) scale(1.0)"><path d="M0.2,0.15 H5.8 L1.9,9.05"/></g><g transform="translate(647.05,149.55) scale(1.0)"><path d="M0.2,0.15 H5.8 L1.9,9.05"/></g>
<g transform="translate(30.10,177.00) scale(1.0)"><path d="M4.4,9.05 V0.1 L0.2,6.5 H6.1"/></g><g transform="translate(37.50,177.00) scale(1.0)"><path d="M0.45,2.75 C0.45,1.2 1.6,0.1 3,0.1 C4.4,0.1 5.55,1.2 5.55,2.6 C5.55,3.7 5,4.4 4.1,5.3 L0.3,9 H5.9"/></g>
<g transform="translate(63.10,177.55) scale(1.0)"><circle cx="2.9" cy="2.2" r="2.1"/><circle cx="2.9" cy="6.5" r="2.55"/></g><g transform="translate(69.90,177.55) scale(1.0)"><circle cx="2.95" cy="6.25" r="2.8"/><path d="M4.5,0.1 L0.55,5.1"/></g>
<g transform="translate(91.50,178.35) scale(1.0)"><path d="M4.4,9.05 V0.1 L0.2,6.5 H6.1"/></g><g transform="translate(98.90,178.35) scale(1.0)"><path d="M4.4,9.05 V0.1 L0.2,6.5 H6.1"/></g>
<g transform="translate(120.10,178.35) scale(1.0)"><path d="M4.4,9.05 V0.1 L0.2,6.5 H6.1"/></g><g transform="translate(127.50,178.35) scale(1.0)"><path d="M5.3,0.15 H1.4 L0.95,3.9 C1.5,3.5 2.2,3.3 2.9,3.3 C4.5,3.3 5.7,4.6 5.7,6.2 C5.7,7.8 4.5,9.05 2.9,9.05 C1.7,9.05 0.8,8.5 0.3,7.6"/></g>
<g transform="translate(149.05,179.10) scale(1.0)"><path d="M4.4,9.05 V0.1 L0.2,6.5 H6.1"/></g><g transform="translate(156.45,179.10) scale(1.0)"><circle cx="2.95" cy="6.25" r="2.8"/><path d="M4.5,0.1 L0.55,5.1"/></g>
<g transform="translate(177.90,178.30) scale(1.0)"><path d="M4.4,9.05 V0.1 L0.2,6.5 H6.1"/></g><g transform="translate(185.30,178.30) scale(1.0)"><path d="M0.2,0.15 H5.8 L1.9,9.05"/></g>
<g transform="translate(206.80,178.30) scale(1.0)"><path d="M4.4,9.05 V0.1 L0.2,6.5 H6.1"/></g><g transform="translate(214.20,178.30) scale(1.0)"><circle cx="2.9" cy="2.2" r="2.1"/><circle cx="2.9" cy="6.5" r="2.55"/></g>
<g transform="translate(235.90,178.05) scale(1.0)"><path d="M4.4,9.05 V0.1 L0.2,6.5 H6.1"/></g><g transform="translate(243.30,178.05) scale(1.0)"><circle cx="2.85" cy="2.8" r="2.8"/><path d="M5.35,3.95 L1.4,9.05"/></g>
<g transform="translate(264.85,178.30) scale(1.0)"><path d="M5.3,0.15 H1.4 L0.95,3.9 C1.5,3.5 2.2,3.3 2.9,3.3 C4.5,3.3 5.7,4.6 5.7,6.2 C5.7,7.8 4.5,9.05 2.9,9.05 C1.7,9.05 0.8,8.5 0.3,7.6"/></g><g transform="translate(271.85,178.30) scale(1.0)"><ellipse cx="2.95" cy="4.55" rx="2.85" ry="4.45"/></g>
<g transform="translate(294.50,178.30) scale(1.0)"><path d="M5.3,0.15 H1.4 L0.95,3.9 C1.5,3.5 2.2,3.3 2.9,3.3 C4.5,3.3 5.7,4.6 5.7,6.2 C5.7,7.8 4.5,9.05 2.9,9.05 C1.7,9.05 0.8,8.5 0.3,7.6"/></g><g transform="translate(301.50,178.30) scale(1.0)"><path d="M3.7,0.1 V9.05 M2.0,1.6 L3.7,0.1"/></g>
<g transform="translate(324.45,178.55) scale(1.0)"><path d="M5.3,0.15 H1.4 L0.95,3.9 C1.5,3.5 2.2,3.3 2.9,3.3 C4.5,3.3 5.7,4.6 5.7,6.2 C5.7,7.8 4.5,9.05 2.9,9.05 C1.7,9.05 0.8,8.5 0.3,7.6"/></g><g transform="translate(331.45,178.55) scale(1.0)"><path d="M0.45,2.75 C0.45,1.2 1.6,0.1 3,0.1 C4.4,0.1 5.55,1.2 5.55,2.6 C5.55,3.7 5,4.4 4.1,5.3 L0.3,9 H5.9"/></g>
<g transform="translate(353.70,178.55) scale(1.0)"><path d="M5.3,0.15 H1.4 L0.95,3.9 C1.5,3.5 2.2,3.3 2.9,3.3 C4.5,3.3 5.7,4.6 5.7,6.2 C5.7,7.8 4.5,9.05 2.9,9.05 C1.7,9.05 0.8,8.5 0.3,7.6"/></g><g transform="translate(360.70,178.55) scale(1.0)"><path d="M0.6,1.4 C1,0.6 1.8,0.1 2.8,0.1 C4.2,0.1 5.1,1.1 5.1,2.3 C5.1,3.6 4,4.5 2.4,4.5 C4.3,4.5 5.6,5.5 5.6,6.8 C5.6,8.1 4.4,9.05 2.8,9.05 C1.6,9.05 0.7,8.5 0.2,7.6"/></g>
<g transform="translate(403.35,177.85) scale(1.0)"><path d="M5.3,0.15 H1.4 L0.95,3.9 C1.5,3.5 2.2,3.3 2.9,3.3 C4.5,3.3 5.7,4.6 5.7,6.2 C5.7,7.8 4.5,9.05 2.9,9.05 C1.7,9.05 0.8,8.5 0.3,7.6"/></g><g transform="translate(410.35,177.85) scale(1.0)"><path d="M4.4,9.05 V0.1 L0.2,6.5 H6.1"/></g>
<g transform="translate(492.90,175.60) scale(1.0)"><path d="M0.2,0.15 H5.8 L1.9,9.05"/></g><g transform="translate(500.00,175.60) scale(1.0)"><path d="M0.45,2.75 C0.45,1.2 1.6,0.1 3,0.1 C4.4,0.1 5.55,1.2 5.55,2.6 C5.55,3.7 5,4.4 4.1,5.3 L0.3,9 H5.9"/></g>
<g transform="translate(580.15,177.65) scale(1.0)"><path d="M0.2,0.15 H5.8 L1.9,9.05"/></g><g transform="translate(587.25,177.65) scale(1.0)"><circle cx="2.85" cy="2.8" r="2.8"/><path d="M5.35,3.95 L1.4,9.05"/></g>
<g transform="translate(611.25,178.45) scale(1.0)"><circle cx="2.9" cy="2.2" r="2.1"/><circle cx="2.9" cy="6.5" r="2.55"/></g><g transform="translate(618.05,178.45) scale(1.0)"><ellipse cx="2.95" cy="4.55" rx="2.85" ry="4.45"/></g>
<g transform="translate(641.00,179.30) scale(1.0)"><circle cx="2.9" cy="2.2" r="2.1"/><circle cx="2.9" cy="6.5" r="2.55"/></g><g transform="translate(647.80,179.30) scale(1.0)"><path d="M3.7,0.1 V9.05 M2.0,1.6 L3.7,0.1"/></g>
<g transform="translate(670.35,192.65) scale(1.0)"><path d="M0.45,2.75 C0.45,1.2 1.6,0.1 3,0.1 C4.4,0.1 5.55,1.2 5.55,2.6 C5.55,3.7 5,4.4 4.1,5.3 L0.3,9 H5.9"/></g><g transform="translate(677.65,192.65) scale(1.0)"><circle cx="2.9" cy="2.2" r="2.1"/><circle cx="2.9" cy="6.5" r="2.55"/></g>
<g transform="translate(33.90,205.50) scale(1.0)"><path d="M0.45,2.75 C0.45,1.2 1.6,0.1 3,0.1 C4.4,0.1 5.55,1.2 5.55,2.6 C5.55,3.7 5,4.4 4.1,5.3 L0.3,9 H5.9"/></g><g transform="translate(41.20,205.50) scale(1.0)"><circle cx="2.85" cy="2.8" r="2.8"/><path d="M5.35,3.95 L1.4,9.05"/></g>
<g transform="translate(100.55,205.75) scale(1.0)"><path d="M5.3,0.15 H1.4 L0.95,3.9 C1.5,3.5 2.2,3.3 2.9,3.3 C4.5,3.3 5.7,4.6 5.7,6.2 C5.7,7.8 4.5,9.05 2.9,9.05 C1.7,9.05 0.8,8.5 0.3,7.6"/></g><g transform="translate(107.55,205.75) scale(1.0)"><circle cx="2.95" cy="6.25" r="2.8"/><path d="M4.5,0.1 L0.55,5.1"/></g>
<g transform="translate(217.45,205.80) scale(1.0)"><path d="M5.3,0.15 H1.4 L0.95,3.9 C1.5,3.5 2.2,3.3 2.9,3.3 C4.5,3.3 5.7,4.6 5.7,6.2 C5.7,7.8 4.5,9.05 2.9,9.05 C1.7,9.05 0.8,8.5 0.3,7.6"/></g><g transform="translate(224.45,205.80) scale(1.0)"><path d="M0.2,0.15 H5.8 L1.9,9.05"/></g>
<g transform="translate(348.40,206.25) scale(1.0)"><path d="M5.3,0.15 H1.4 L0.95,3.9 C1.5,3.5 2.2,3.3 2.9,3.3 C4.5,3.3 5.7,4.6 5.7,6.2 C5.7,7.8 4.5,9.05 2.9,9.05 C1.7,9.05 0.8,8.5 0.3,7.6"/></g><g transform="translate(355.40,206.25) scale(1.0)"><circle cx="2.95" cy="6.25" r="2.8"/><path d="M4.5,0.1 L0.55,5.1"/></g>
<g transform="translate(410.75,205.25) scale(1.0)"><path d="M0.45,2.75 C0.45,1.2 1.6,0.1 3,0.1 C4.4,0.1 5.55,1.2 5.55,2.6 C5.55,3.7 5,4.4 4.1,5.3 L0.3,9 H5.9"/></g><g transform="translate(418.05,205.25) scale(1.0)"><circle cx="2.85" cy="2.8" r="2.8"/><path d="M5.35,3.95 L1.4,9.05"/></g>
<g transform="translate(463.05,205.45) scale(1.0)"><path d="M0.2,0.15 H5.8 L1.9,9.05"/></g><g transform="translate(470.15,205.45) scale(1.0)"><path d="M5.3,0.15 H1.4 L0.95,3.9 C1.5,3.5 2.2,3.3 2.9,3.3 C4.5,3.3 5.7,4.6 5.7,6.2 C5.7,7.8 4.5,9.05 2.9,9.05 C1.7,9.05 0.8,8.5 0.3,7.6"/></g>
<g transform="translate(493.60,206.10) scale(1.0)"><circle cx="2.9" cy="2.2" r="2.1"/><circle cx="2.9" cy="6.5" r="2.55"/></g><g transform="translate(500.40,206.10) scale(1.0)"><ellipse cx="2.95" cy="4.55" rx="2.85" ry="4.45"/></g>
<g transform="translate(524.15,206.45) scale(1.0)"><path d="M0.2,0.15 H5.8 L1.9,9.05"/></g><g transform="translate(531.25,206.45) scale(1.0)"><path d="M0.2,0.15 H5.8 L1.9,9.05"/></g>
<g transform="translate(595.75,206.85) scale(1.0)"><circle cx="2.9" cy="2.2" r="2.1"/><circle cx="2.9" cy="6.5" r="2.55"/></g><g transform="translate(602.55,206.85) scale(1.0)"><path d="M0.45,2.75 C0.45,1.2 1.6,0.1 3,0.1 C4.4,0.1 5.55,1.2 5.55,2.6 C5.55,3.7 5,4.4 4.1,5.3 L0.3,9 H5.9"/></g>
<g transform="translate(641.45,207.05) scale(1.0)"><circle cx="2.9" cy="2.2" r="2.1"/><circle cx="2.9" cy="6.5" r="2.55"/></g><g transform="translate(648.25,207.05) scale(1.0)"><path d="M0.6,1.4 C1,0.6 1.8,0.1 2.8,0.1 C4.2,0.1 5.1,1.1 5.1,2.3 C5.1,3.6 4,4.5 2.4,4.5 C4.3,4.5 5.6,5.5 5.6,6.8 C5.6,8.1 4.4,9.05 2.8,9.05 C1.6,9.05 0.7,8.5 0.2,7.6"/></g>
<g transform="translate(417.75,140.15) scale(1.0)"><path d="M0.45,2.75 C0.45,1.2 1.6,0.1 3,0.1 C4.4,0.1 5.55,1.2 5.55,2.6 C5.55,3.7 5,4.4 4.1,5.3 L0.3,9 H5.9"/></g><g transform="translate(425.05,140.15) scale(1.0)"><circle cx="2.9" cy="2.2" r="2.1"/><circle cx="2.9" cy="6.5" r="2.55"/></g>
<g transform="translate(523.20,27.90) scale(0.55)"><path d="M0.45,2.75 C0.45,1.2 1.6,0.1 3,0.1 C4.4,0.1 5.55,1.2 5.55,2.6 C5.55,3.7 5,4.4 4.1,5.3 L0.3,9 H5.9"/></g><g transform="translate(527.21,27.90) scale(0.55)"><circle cx="2.85" cy="2.8" r="2.8"/><path d="M5.35,3.95 L1.4,9.05"/></g><path d="M524,38.4 H527.6 M525.8,36.6 V40.2" stroke-width="0.7"/><g transform="translate(523.28,43.30) scale(0.55)"><circle cx="2.95" cy="6.25" r="2.8"/><path d="M4.5,0.1 L0.55,5.1"/></g><g transform="translate(527.13,43.30) scale(0.55)"><circle cx="2.85" cy="2.8" r="2.8"/><path d="M5.35,3.95 L1.4,9.05"/></g>
</g>
<rect x="582.40" y="46.30" width="9.70" height="3.20" fill="#8a8a8a" stroke="#111" stroke-width="1"/><rect x="618.50" y="46.30" width="9.70" height="3.20" fill="#8a8a8a" stroke="#111" stroke-width="1"/><rect x="656.40" y="45.60" width="9.30" height="3.50" fill="#8a8a8a" stroke="#111" stroke-width="1"/>
<!-- yellow boxes -->
<g fill="none" stroke="#ffff00" stroke-width="3.2">
<rect x="451.6" y="16.4" width="107" height="61.6"/>
<line x1="512.9" y1="16.4" x2="512.9" y2="78"/>
<rect x="451.6" y="78" width="107" height="184"/>
<polyline points="536.3,268 536.3,446.1 497.6,446.1" stroke-linejoin="round"/>
<line x1="84.9" y1="291.0" x2="150" y2="197" stroke-linecap="round"/>
</g>
<polygon points="536.3,263.3 533,268.5 539.6,268.5" fill="#ffff00"/>
<polygon points="152.8,192.9 146.8,197.2 152.3,200.6" fill="#ffff00"/>
</svg>
<div class="b" style="left:9.5px;top:315px"></div>
<div class="t" id="t1" style="left:24px;top:307.5px;transform:scaleX(0.905)">Teclas normales</div>
<div class="b" style="left:9.6px;top:391.2px"></div>
<div class="t" id="t2" style="left:24px;top:383.8px;transform:scaleX(0.89)">Teclas grises</div>
<div class="t" id="t2b" style="left:143.8px;top:383.8px;transform:scaleX(0.916)">(MF-</div>
<div class="t" id="t2c" style="left:184.6px;top:383.2px;font-family:'Liberation Serif',serif;font-size:22.5px;letter-spacing:0.3px;transform:scaleX(1.0)">II</div>
<div class="t" id="t2d" style="left:201.2px;top:383.8px;transform:scaleX(0.93)">)</div>
<div class="t" id="t3" style="left:34px;top:413.8px;transform:scaleX(0.933)">y Alt-Gr</div>
<div class="b" style="left:9.4px;top:483.7px"></div>
<div class="t" id="t4" style="left:24px;top:475.5px;transform:scaleX(0.859)">Tecla PAUSE</div>
<div class="b" style="left:224px;top:302.9px"></div>
<div class="t" id="t5" style="left:238.5px;top:294.8px;transform:scaleX(0.913)">Make/Break code</div>
<div class="t" id="t6" style="left:242.2px;top:318.6px;transform:scaleX(0.897)">(Press/Release code)</div>
<div class="b" style="left:224.2px;top:399.5px"></div>
<div class="t" id="t7" style="left:238.5px;top:392px;transform:scaleX(0.906)">E0h</div>
<div class="b" style="left:224.2px;top:428.7px"></div>
<div class="t" id="t8" style="left:238.5px;top:421px;transform:scaleX(0.913)">Make/Break/ Special code</div>
<div class="b" style="left:224.1px;top:483.4px"></div>
<div class="t" id="t9" style="left:238.5px;top:476px;transform:scaleX(0.903)">E1h</div>
<svg width="713" height="513" viewBox="0 0 713 513" style="pointer-events:none">
<g fill="none" stroke="#ffff00" stroke-width="2.6" stroke-linecap="round" stroke-linejoin="round">
<path d="M221.6,292.6 Q218.0,292.6 218.0,296.8 L218.0,314.8 Q218.0,318.7 212.8,319.5 Q218.0,320.3 218.0,324.2 L218.0,342.3 Q218.0,346.5 221.6,346.5"/>
<path d="M221.6,384.8 Q218.0,384.8 218.0,389.0 L218.0,406.5 Q218.0,410.4 212.8,411.2 Q218.0,412.0 218.0,415.9 L218.0,434.0 Q218.0,438.2 221.6,438.2"/>
<path d="M221.6,453.6 Q218.0,453.6 218.0,457.8 L218.0,475.8 Q218.0,479.7 212.8,480.5 Q218.0,481.3 218.0,485.2 L218.0,502.8 Q218.0,507 221.6,507"/>
</g>
</svg>
</body></html>
